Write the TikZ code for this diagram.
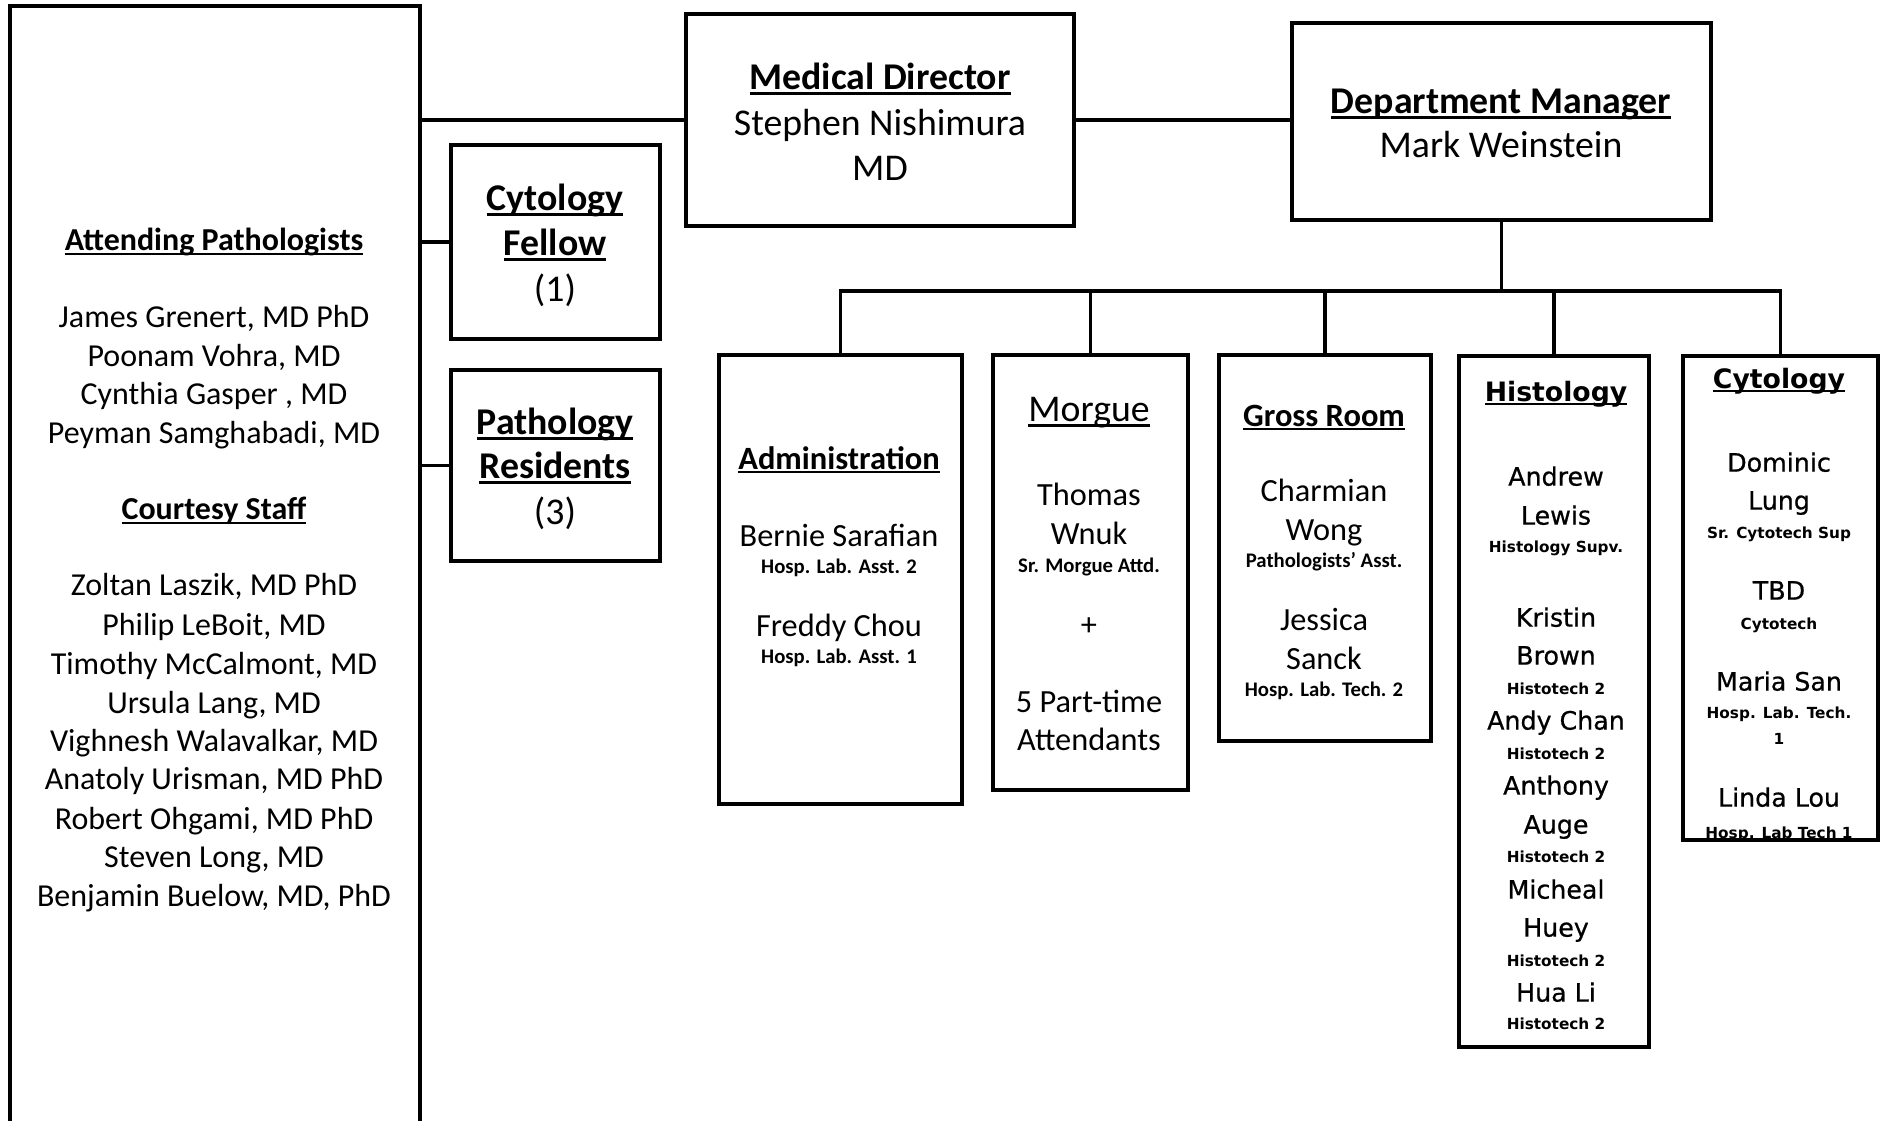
\documentclass[tikz,border=0pt]{standalone}
\usepackage{fontspec}
\setmainfont{Carlito}
\newfontfamily\verd{DejaVu Sans}
\newfontfamily\verdm[FakeBold=0.7]{DejaVu Sans}
\usepackage{tikz}
\newcommand\hdul[1]{\setbox0=\hbox{#1}\rlap{\rule[-0.13em]{\wd0}{0.065em}}\box0}
\tikzset{
	box/.style 2 args={draw, line width=2.4pt, inner sep=0pt, outer sep=0pt, minimum width=#1*0.02cm, minimum height=#2*0.02cm},
	link/.style={line width=2.2pt},
	lbl/.style={anchor=base, yshift=-0.34*#1pt, inner sep=0pt, font=\fontsize{#1}{#1}\selectfont},
	blbl/.style={lbl=#1, font=\bfseries\fontsize{#1}{#1}\selectfont},
	vlbl/.style={lbl=#1, font=\verdm\fontsize{#1}{#1}\selectfont},
	vblbl/.style={lbl=#1, font=\verd\bfseries\fontsize{#1}{#1}\selectfont},
	toptx/.style={lbl=21.5}, tophd/.style={blbl=21.5},
	stf/.style={lbl=18.2}, stfhd/.style={blbl=18.2},
	nm/.style={lbl=18.4}, hd/.style={blbl=18.5}, nt/.style={blbl=11.8},
	vn/.style={vlbl=14.4}, vh/.style={vblbl=15.2}, vt/.style={vblbl=8.7},
}

\begin{document}
\begin{tikzpicture}[x=0.02cm, y=-0.02cm]
	\useasboundingbox (0,0) rectangle (1885,1120);
	\clip (0,0) rectangle (1885,1120);

	\node[box={410}{1154}] (staff) at (215,583) {};
	\node[box={388}{212}] (md) at (880,120) {};
	\node[box={419}{197}] (mgr) at (1501.5,121.5) {};
	\node[box={209}{194}] (fellow) at (555.5,242) {};
	\node[box={209}{191}] (resid) at (555.5,465.5) {};
	\node[box={243}{449}] (admin) at (840.5,579.5) {};
	\node[box={195}{435}] (morgue) at (1090.5,572.5) {};
	\node[box={212}{386}] (gross) at (1325,548) {};
	\node[box={190}{691}] (histo) at (1554,701.5) {};
	\node[box={195}{484}] (cyto) at (1780.5,598) {};

	\draw[link] (md.west) -- (md.west -| staff.east);
	\draw[link] (md.east) -- (md.east -| mgr.west);
	\draw[link] (fellow.west) -- (fellow.west -| staff.east);
	\draw[link] (resid.west) -- (resid.west -| staff.east);
	\coordinate (bus) at (1501,291);
	\draw[link] (mgr.south) -- (mgr.south |- bus);
	\draw[link] (admin.north) |- (bus -| cyto.north) -- (cyto.north);
	\foreach \b in {morgue,gross,histo}
		\draw[link] (\b.north) -- (\b.north |- bus);

	\foreach \y/\s/\t [count=\i] in {240/stfhd/\hdul{Attending Pathologists},
		{317/stf/James Grenert, MD PhD}, {356/stf/Poonam Vohra, MD}, {394/stf/Cynthia Gasper , MD},
		{433/stf/Peyman Samghabadi, MD}, 509/stfhd/\hdul{Courtesy Staff},
		{585/stf/Zoltan Laszik, MD PhD}, {625/stf/Philip LeBoit, MD}, {664/stf/Timothy McCalmont, MD},
		{703/stf/Ursula Lang, MD}, {741/stf/Vighnesh Walavalkar, MD}, {779/stf/Anatoly Urisman, MD PhD},
		{819/stf/Robert Ohgami, MD PhD}, {857/stf/Steven Long, MD}, {896/stf/Benjamin Buelow, MD, PhD}}
		\node[\s] (st\i) at (214,\y) {\t};

	\node[tophd] (md1) at (880,77) {\hdul{Medical Director}};
	\node[toptx] (md2) at (880,123) {Stephen Nishimura};
	\node[toptx] (md3) at (880,168) {MD};
	\node[tophd] (mg1) at (1501,101) {\hdul{Department Manager}};
	\node[toptx] (mg2) at (1501,145) {Mark Weinstein};
	\node[tophd] (fe1) at (555,198) {\hdul{Cytology}};
	\node[tophd] (fe2) at (555,243) {\hdul{Fellow}};
	\node[toptx] (fe3) at (555,289) {(1)};
	\node[tophd] (re1) at (555,422) {\hdul{Pathology}};
	\node[tophd] (re2) at (555,466) {\hdul{Residents}};
	\node[toptx] (re3) at (555,512) {(3)};

	\foreach \y/\s/\t [count=\i] in {458/hd/\hdul{Administration}, 535/nm/Bernie Sarafian,
		566/nt/Hosp. Lab. Asst. 2, 625/nm/Freddy Chou, 656/nt/Hosp. Lab. Asst. 1}
		\node[\s] (ad\i) at (839,\y) {\t};

	\foreach \y/\s/\t [count=\i] in {409/toptx/\hdul{Morgue}, 494/nm/Thomas, 533/nm/Wnuk,
		565/nt/Sr. Morgue Attd., 624/nm/+, 701/nm/5 Part-time, 739/nm/Attendants}
		\node[\s] (mo\i) at (1089,\y) {\t};

	\foreach \y/\s/\t [count=\i] in {415/hd/\hdul{Gross Room}, 490/nm/Charmian, 529/nm/Wong,
		560/nt/Pathologists’ Asst., 619/nm/Jessica, 658/nm/Sanck, 689/nt/Hosp. Lab. Tech. 2}
		\node[\s] (gr\i) at (1324,\y) {\t};

	\foreach \y/\s/\t [count=\i] in {392/vh/\hdul{Histology}, 477/vn/Andrew, 516/vn/Lewis,
		547/vt/Histology Supv., 618/vn/Kristin, 656/vn/Brown, 689/vt/Histotech 2,
		721/vn/Andy Chan, 754/vt/Histotech 2, 786/vn/Anthony, 825/vn/Auge, 857/vt/Histotech 2,
		890/vn/Micheal, 928/vn/Huey, 961/vt/Histotech 2, 993/vn/Hua Li, 1024/vt/Histotech 2}
		\node[\s] (hi\i) at (1556,\y) {\t};

	\foreach \y/\s/\t [count=\i] in {379/vh/\hdul{Cytology}, 463/vn/Dominic, 501/vn/Lung,
		533/vt/Sr. Cytotech Sup, 591/vn/TBD, 624/vt/Cytotech, 682/vn/Maria San,
		713/vt/Hosp. Lab. Tech., 739/vt/1, 798/vn/Linda Lou}
		\node[\s] (cy\i) at (1779,\y) {\t};
	\begin{scope}
		\clip (cyto.south west) rectangle (cyto.north east);
		\node[vt] (cy11) at (1779,833) {Hosp. Lab Tech 1};
	\end{scope}
\end{tikzpicture}
\end{document}
